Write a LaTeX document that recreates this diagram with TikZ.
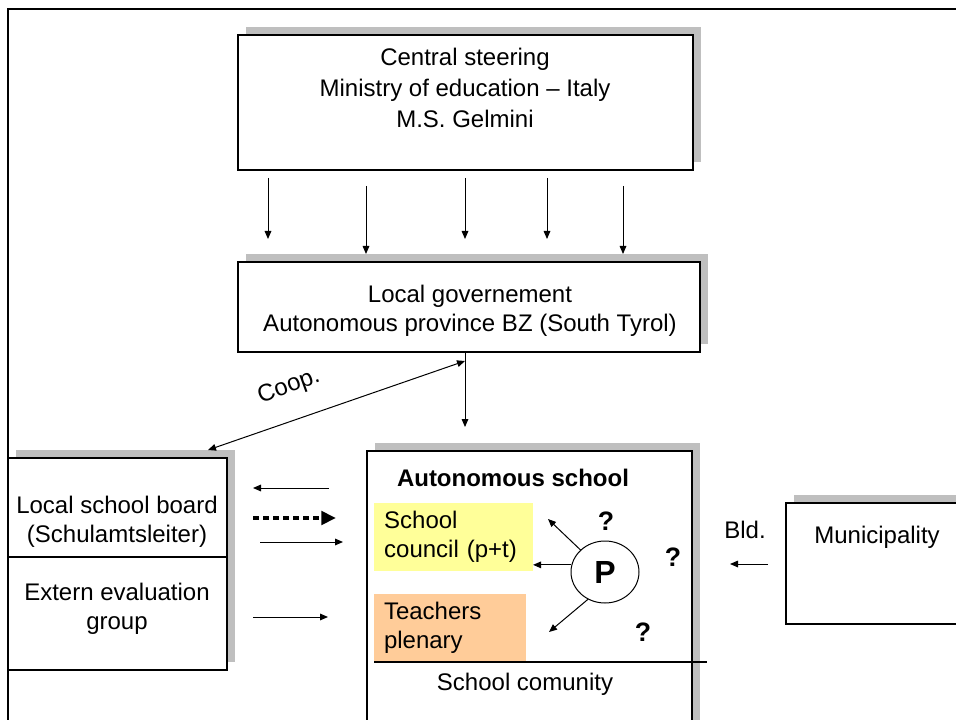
\documentclass[tikz,border=0pt]{standalone}
\usepackage{fontspec}
\setmainfont{Liberation Sans}
\usetikzlibrary{arrows.meta,shadows,shapes.geometric}

\begin{document}
\begin{tikzpicture}[x=0.75pt,y=-0.75pt,
  txt/.style={font=\fontsize{18}{21.5}\selectfont, align=center, inner sep=0pt},
  boldtxt/.style={font=\fontsize{18}{21.5}\selectfont\bfseries, inner sep=0pt},
  qmark/.style={font=\fontsize{20}{22}\selectfont\bfseries, inner sep=0pt},
  box/.style={draw, line width=0.9pt, fill=white, inner sep=0pt,
    drop shadow={shadow xshift=6pt, shadow yshift=6pt, fill=gray!50, opacity=1}},
  colbox/.style={inner xsep=7.5pt, inner ysep=0pt, minimum height=51pt, align=left,
    font=\fontsize{18}{21.5}\selectfont},
  arr/.style={-{Triangle[length=6pt,width=5pt]}, line width=0.75pt},
  bigarr/.style={-{Triangle[length=11pt,width=10pt]}, line width=3.2pt, dash pattern=on 4.5pt off 3pt},
]
\clip (0,0) rectangle (956,720);
\fill[white] (0,0) rectangle (956,720);

% ministry
\node[box, minimum width=341.25pt, minimum height=101.25pt] (cs) at (465.5,102.5) {};
\node[txt, font=\fontsize{18}{23}\selectfont] (cstxt) at (465,88)
  {Central steering\\Ministry of education -- Italy\\M.S. Gelmini};

% steering arrows
\foreach \i/\x/\a/\b in {1/268/178/239, 2/366/186/254, 3/465/178/239, 4/547/178/239, 5/623/186/254}{
  \coordinate (s\i) at (\x,\a);
  \coordinate (e\i) at (\x,\b);
  \draw[arr] (s\i) -- (e\i);
}

% province
\node[box, minimum width=346.5pt, minimum height=67.5pt] (lg) at (469,307) {};
\node[txt] (lgtxt) at (470,311) {Local governement\\Autonomous province BZ (South Tyrol)};

% local school board / evaluation group
\node[box, minimum width=164.25pt, minimum height=159pt] (lsb) at (117.5,564) {};
\draw[line width=0.9pt] (lsb.west |- 0,557) -- (lsb.east |- 0,557);
\node[txt] (lsbtxt) at (117,522) {Local school board\\(Schulamtsleiter)};
\node[txt] (evtxt) at (117,609) {Extern evaluation\\group};

% autonomous school
\node[box, minimum width=243.75pt, minimum height=246.75pt] (as) at (529.5,615.5) {};
\node[boldtxt] (astxt) at (513,478) {Autonomous school};
\node[colbox, fill={rgb,255:red,255;green,255;blue,153}, text width=104pt] (council) at (453.5,537)
  {School\\council (p+t)};
\node[colbox, fill={rgb,255:red,255;green,204;blue,153}, text width=99pt] (plenary) at (450,628)
  {Teachers\\plenary};
\coordinate (sepL) at (374,662);
\coordinate (sepR) at (707,662);
\draw[line width=0.9pt] (sepL) -- (sepR);
\node[txt] (comtxt) at (525,684) {School comunity};

\node[draw, ellipse, line width=0.75pt, fill=white, minimum width=51pt, minimum height=46.5pt,
  inner sep=0pt, font=\fontsize{24}{26}\selectfont\bfseries] (P) at (605,572) {P};
\coordinate (p1) at (548,519);
\coordinate (p3) at (549,632);
\draw[arr] (P.138) -- (p1);
\draw[arr] (P.168) -- (P.168 -| council.east);
\draw[arr] (P.238) -- (p3);
\node[qmark] (q1) at (606,521) {?};
\node[qmark] (q2) at (673,557) {?};
\node[qmark] (q3) at (643,632) {?};

% municipality
\node[box, minimum width=136.5pt, minimum height=90.75pt] (mun) at (877,563.5) {};
\node[txt] (muntxt) at (877,537) {Municipality};
\node[txt] (bld) at (745,530) {Bld.};
\coordinate (bldS) at (768,564);
\coordinate (bldE) at (730,564);
\draw[arr] (bldS) -- (bldE);

% links between province, board and school
\coordinate (lgb) at (465,352);
\coordinate (asin) at (465,427);
\draw[arr] (lgb) -- (asin);
\coordinate (coopR) at (465,361);
\coordinate (coopL) at (208,450);
\draw[{Triangle[length=6pt,width=5pt]}-{Triangle[length=6pt,width=5pt]}, line width=0.75pt] (coopR) -- (coopL);
\node[txt, rotate=20] (coop) at (289,387) {Coop.};

\coordinate (b1s) at (329,488);
\coordinate (b1e) at (253,488);
\draw[arr] (b1s) -- (b1e);
\coordinate (b2s) at (253,518);
\coordinate (b2e) at (336,518);
\draw[bigarr] (b2s) -- (b2e);
\coordinate (b3s) at (260,542);
\coordinate (b3e) at (343,542);
\draw[arr] (b3s) -- (b3e);
\coordinate (b4s) at (253,617);
\coordinate (b4e) at (328,617);
\draw[arr] (b4s) -- (b4e);

% page frame
\draw[line width=2.2pt] (8,720) -- (8,9) -- (956,9);
\end{tikzpicture}
\end{document}
